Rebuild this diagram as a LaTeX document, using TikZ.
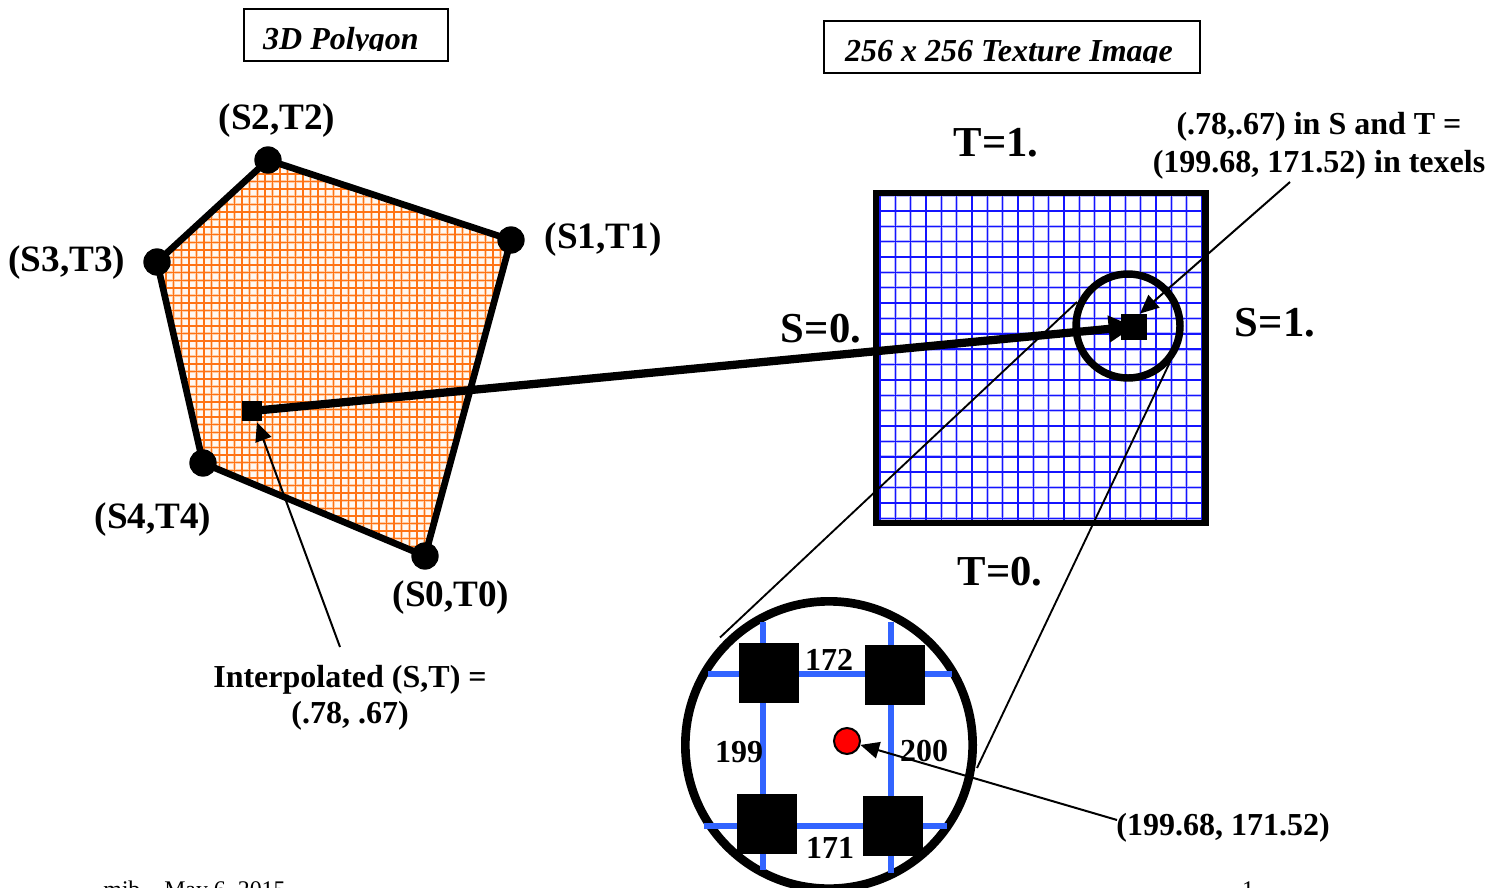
\documentclass[tikz,border=0pt]{standalone}
\usepackage{fontspec}
\setmainfont{Liberation Serif}
\usetikzlibrary{arrows.meta}
\definecolor{gridorange}{RGB}{255,115,20}
\definecolor{haloorange}{RGB}{255,205,165}
\definecolor{palefill}{RGB}{255,248,242}
\definecolor{gridblue}{RGB}{20,20,255}
\definecolor{haloblue}{RGB}{185,185,255}
\definecolor{lensblue}{RGB}{50,100,255}
\tikzset{
  x=0.75pt,y=-0.75pt,
  titlebox/.style={draw,line width=1.5pt,inner sep=0pt,outer sep=0pt,anchor=north west},
  titletxt/.style={font=\fontsize{24}{24}\selectfont\bfseries\itshape,anchor=base,inner sep=0pt},
  lbl/.style={font=\fontsize{24}{24}\selectfont\bfseries,anchor=base,inner sep=0pt},
  vtx/.style={font=\fontsize{27.9}{27.9}\selectfont\bfseries,anchor=base,inner sep=0pt},
  edgeval/.style={font=\fontsize{32}{32}\selectfont\bfseries,anchor=base,inner sep=0pt},
  foot/.style={font=\fontsize{17.9}{17.9}\selectfont,anchor=base,inner sep=0pt},
  dot/.style={circle,fill=black,minimum size=20.5pt,inner sep=0pt},
  sq/.style={rectangle,fill=black,inner sep=0pt,outer sep=0pt,minimum size=#1},
  polyline/.style={line width=5pt,line join=round},
  thin arrow/.style={line width=1.5pt,-{Triangle[length=14pt,width=12.5pt]}},
  lens line/.style={line width=1.4pt},
  lens grid/.style={lensblue,line width=4.4pt},
}
\begin{document}
\begin{tikzpicture}
\useasboundingbox (0,0) rectangle (1503,888);
\clip (0,0) rectangle (1503,888);

% titles
\node[titlebox,minimum width=153pt,minimum height=38.5pt] (t1box) at (244,9.5) {};
\node[titlebox,minimum width=282pt,minimum height=39pt] (t2box) at (824,21) {};
\begin{scope}
  \clip (246,12) rectangle (446,50.5);
  \node[titletxt] (t1) at (341,50) {3D Polygon};
\end{scope}
\begin{scope}
  \clip (826,24) rectangle (1198,62.5);
  \node[titletxt] (t2) at (1009,62) {256 x 256 Texture Image};
\end{scope}

% polygon vertices
\coordinate (p0) at (425,556);
\coordinate (p1) at (511,240);
\coordinate (p2) at (268,160);
\coordinate (p3) at (157,262);
\coordinate (p4) at (203,463);

\begin{scope}
  \clip (p0) -- (p1) -- (p2) -- (p3) -- (p4) -- cycle;
  \fill[palefill] (150,150) rectangle (520,570);
  \foreach \k in {-8,...,50} {
    \draw[haloorange,line width=1.9pt] ({211.7+7.6*\k},150) -- ({211.7+7.6*\k},570);
  }
  \foreach \k in {-33,...,30} {
    \draw[haloorange,line width=1.9pt] (150,{386.7+7.6*\k}) -- (520,{386.7+7.6*\k});
  }
  \foreach \k in {-8,...,50} {
    \draw[gridorange,line width=1.05pt] ({211.7+7.6*\k},150) -- ({211.7+7.6*\k},570);
  }
  \foreach \k in {-33,...,30} {
    \draw[gridorange,line width=1.05pt] (150,{386.7+7.6*\k}) -- (520,{386.7+7.6*\k});
  }
\end{scope}
\draw[polyline] (p0) -- (p1) -- (p2) -- (p3) -- (p4) -- cycle;
\node[dot] (s0) at (p0) {};
\node[dot] (s1) at (p1) {};
\node[dot] (s2) at (p2) {};
\node[dot] (s3) at (p3) {};
\node[dot] (s4) at (p4) {};

% texture
\foreach \k in {0,...,21} {
  \draw[haloblue,line width=2pt] ({880+15.33*\k},195) -- ({880+15.33*\k},521);
  \draw[haloblue,line width=2pt] (878,{195.5+15.37*\k}) -- (1203,{195.5+15.37*\k});
}
\foreach \k in {0,...,21} {
  \draw[gridblue,line width=1.1pt] ({880+15.33*\k},195) -- ({880+15.33*\k},521);
  \draw[gridblue,line width=1.1pt] (878,{195.5+15.37*\k}) -- (1203,{195.5+15.37*\k});
}
\node[draw,line width=4.9pt,inner sep=0pt,outer sep=0pt,minimum width=247.1pt,minimum height=247.5pt,anchor=north west] (tex) at (876,193) {};

% connector between squares
\node[sq=15pt] (interp) at (252,411) {};
\node[sq=19.5pt] (texel) at (1134,326.5) {};
\draw[line width=6.2pt,-{Triangle[length=19pt,width=19pt]}] (interp.center) -- (texel.center);

% lens outline lines
\coordinate (la) at (720,637.5);
\coordinate (lb) at (1077,302);
\coordinate (lc) at (1170,362);
\coordinate (ld) at (977,768);
\draw[lens line] (la) -- (lb);
\draw[lens line] (lc) -- (ld);
\node[circle,draw,line width=5.6pt,minimum size=78pt,inner sep=0pt] (small) at (1128,326) {};

% callouts
\coordinate (c1) at (1290,182);
\draw[thin arrow] (c1) -- ([xshift=4.5pt]texel.north);
\coordinate (c2) at (340,647);
\draw[thin arrow] (c2) -- ([xshift=3.75pt,yshift=-1pt]interp.south);

% lens
\node[circle,draw,line width=6.5pt,minimum size=215.5pt,inner sep=0pt] (big) at (829,745) {};
\draw[lens grid] (763,622) -- (763,870);
\draw[lens grid] (891,622) -- (891,873);
\draw[lens grid] (708,674) -- (952,674);
\draw[lens grid] (704,826) -- (947,826);
\node[sq=45pt] (q1) at (769,673) {};
\node[sq=45pt] (q2) at (895,675) {};
\node[sq=45pt] (q3) at (767,824) {};
\node[sq=45pt] (q4) at (893,826) {};
\node[circle,fill=red,draw=black,line width=1.5pt,minimum size=19.5pt,inner sep=0pt] (red) at (847,741) {};
\coordinate (c3) at (1117,820);
\draw[thin arrow] (c3) -- (red);

% labels
\node[vtx] (ls2) at (277,130) {(S2,T2)};
\node[vtx] (ls1) at (603,248) {(S1,T1)};
\node[vtx] (ls3) at (67,271) {(S3,T3)};
\node[vtx] (ls4) at (153,528) {(S4,T4)};
\node[vtx] (ls0) at (451,606) {(S0,T0)};
\node[edgeval] (t1l) at (996,157) {T=1.};
\node[edgeval] (t0l) at (1000,585) {T=0.};
\node[edgeval] (s0l) at (821,342) {S=0.};
\node[edgeval] (s1l) at (1275,336) {S=1.};
\node[lbl] (a1) at (1319,135) {(.78,.67) in S and T =};
\node[lbl] (a2) at (1319,173) {(199.68, 171.52) in texels};
\node[lbl] (i1) at (350,687) {Interpolated (S,T) =};
\node[lbl] (i2) at (350,723) {(.78, .67)};
\node[lbl] (n172) at (829,670) {172};
\node[lbl] (n171) at (830,858) {171};
\node[lbl] (n199) at (739,762) {199};
\node[lbl] (n200) at (924,761) {200};
\node[lbl] (coord) at (1223,835) {(199.68, 171.52)};
\node[foot,anchor=base west] (f1) at (103,897) {mjb -- May 6, 2015};
\node[foot] (f2) at (1248,897) {1};
\end{tikzpicture}
\end{document}
